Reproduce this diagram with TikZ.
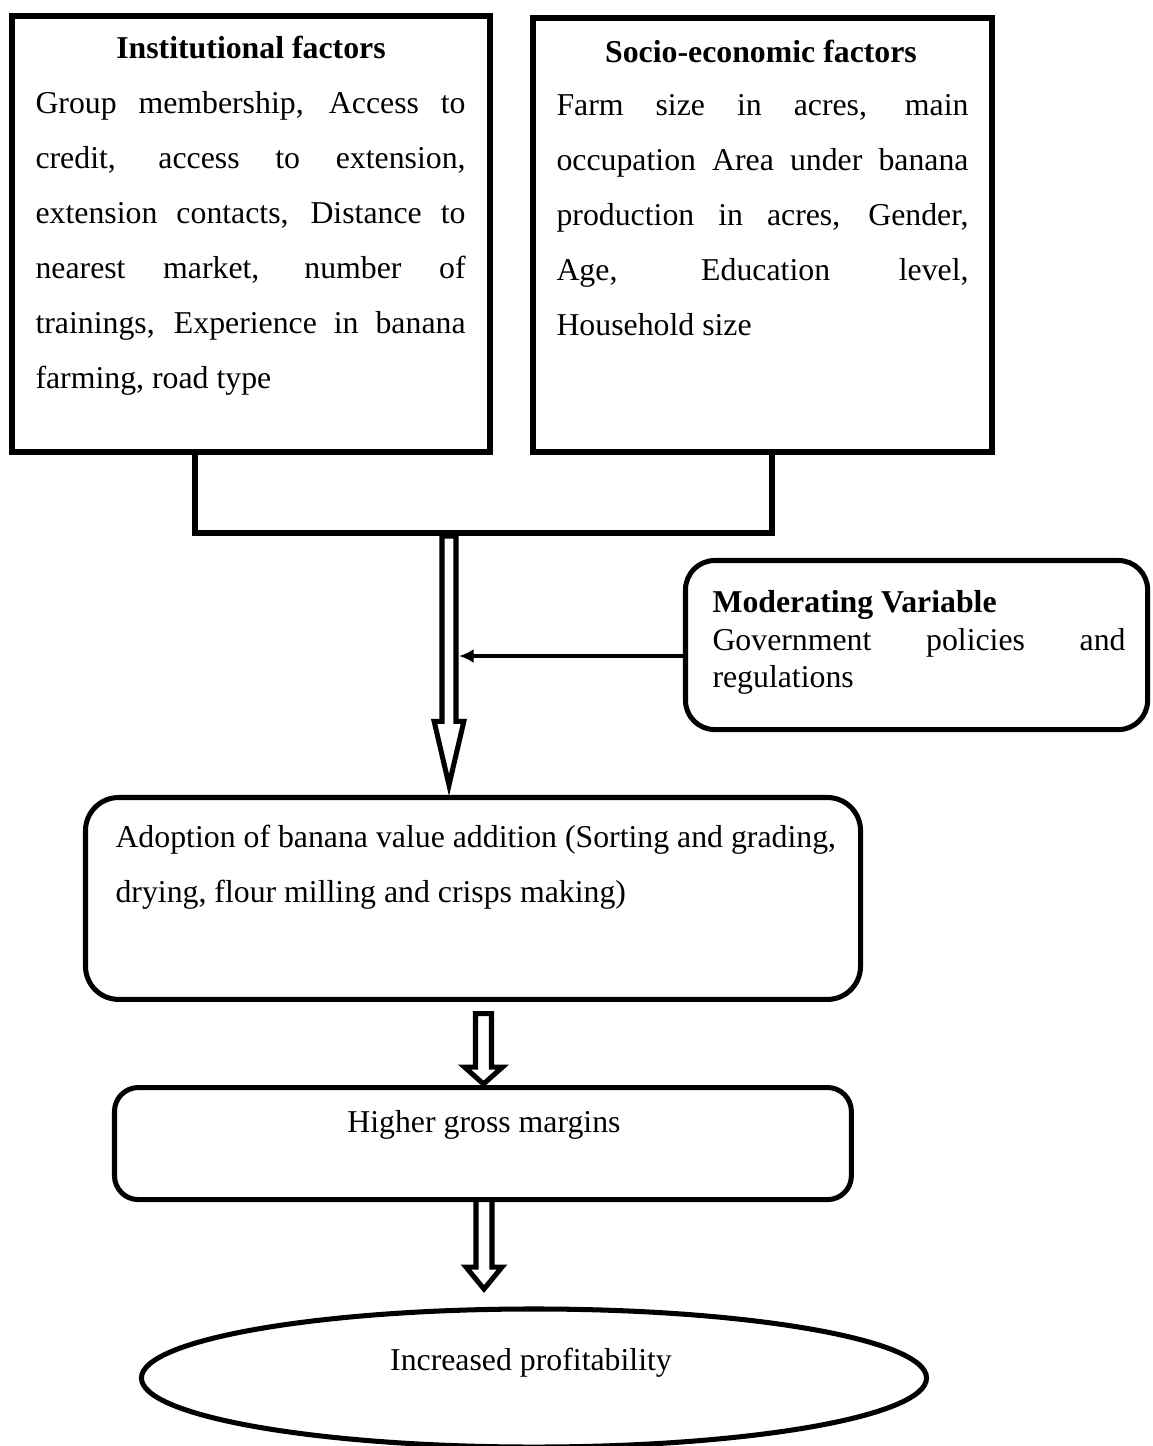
\documentclass[tikz,border=0pt]{standalone}
\usepackage{fontspec}
\setmainfont{Liberation Serif}
\usepackage{tikz}
\usetikzlibrary{positioning}
\usetikzlibrary{arrows.meta}
\usetikzlibrary{shapes}
\usetikzlibrary{calc}
\tikzset{
  factorbox/.style={rectangle, draw, line width=2.3pt, inner sep=0pt, outer sep=0pt, anchor=north west},
  roundbox/.style={rectangle, rounded corners=#1, draw, line width=1.9pt, inner sep=0pt, outer sep=0pt, anchor=north west},
  roundbox/.default=11pt,
  bodytext/.style={anchor=north west, inner sep=0pt, align=left, font=\fontsize{12}{20.75}\selectfont},
  headtext/.style={anchor=base, inner sep=0pt, font=\fontsize{12}{14}\selectfont\bfseries},
  plaintext/.style={anchor=base, inner sep=0pt, font=\fontsize{12}{14}\selectfont},
}
% justified line of a given width
\newcommand\jl[2]{\makebox[#1][s]{#2}}
% hollow block arrow: from, tip, shaft half width, head half width, head length
\newcommand\hollowarrow[5]{
  \draw[line width=1.9pt, fill=white, line join=miter] let \p1=(#1), \p2=(#2) in
    (\x1-#3,\y1) -- (\x1-#3,\y2+#5) -- (\x1-#4,\y2+#5) -- (\x2,\y2)
    -- (\x1+#4,\y2+#5) -- (\x1+#3,\y2+#5) -- (\x1+#3,\y1) -- cycle;
}
\begin{document}
\begin{tikzpicture}[x=0.3774pt, y=-0.3774pt]
    \useasboundingbox (0,0) rectangle (1152,1446);

    % the two groups of factors
    \node[factorbox, minimum width=180.4pt, minimum height=164.5pt] (inst) at (12,16) {};
    \node[headtext] (insttitle) at (251,58) {Institutional factors};
    \node[bodytext] (insttext) at (35,74.5) {\strut\jl{162.3pt}{Group membership, Access to}\\
      \jl{162.3pt}{credit, access to extension,}\\
      \jl{162.3pt}{extension contacts, Distance to}\\
      \jl{162.3pt}{nearest market, number of}\\
      \jl{162.3pt}{trainings, Experience in banana}\\
      farming, road type};

    \node[factorbox, minimum width=173.2pt, minimum height=163.8pt] (socio) at (533,18) {};
    \node[headtext] (sociotitle) at (761,62) {Socio-economic factors};
    \node[bodytext] (sociotext) at (556,76.5) {\strut\jl{155.5pt}{Farm size in acres, main}\\
      \jl{155.5pt}{occupation Area under banana}\\
      \jl{155.5pt}{production in acres, Gender,}\\
      \jl{155.5pt}{Age, Education level,}\\
      Household size};

    % bracket joining both boxes
    \coordinate (brl) at (195,533);
    \coordinate (brr) at (772,533);
    \draw[line width=2.2pt] (brl |- inst.south) -- (brl) -- (brr) -- (brr |- socio.south);

    % moderating variable
    \node[roundbox, minimum width=174.4pt, minimum height=63.8pt] (mod) at (685.5,560.5) {};
    \node[bodytext, font=\fontsize{12}{14.15}\selectfont] (modtext) at (712,585.8) {\strut\textbf{Moderating Variable}\\
      \jl{155.9pt}{Government policies and}\\
      regulations};

    % outcome chain
    \node[roundbox=12.5pt, minimum width=292.5pt, minimum height=76.2pt] (adopt) at (85.5,797.5) {};
    \node[bodytext] (adopttext) at (115,808.5) {\strut Adoption of banana value addition (Sorting and grading,\\
      drying, flour milling and crisps making)};

    \node[roundbox=9pt, minimum width=278.1pt, minimum height=42.3pt] (gross) at (114.5,1087.5) {};
    \node[plaintext] (grosstext) at (484,1132) {Higher gross margins};

    \node[ellipse, draw, line width=1.9pt, inner sep=0pt, minimum width=296.3pt, minimum height=52.1pt] (profit) at (534,1378) {};
    \node[plaintext] (profittext) at (531,1370) {Increased profitability};

    % arrows
    \coordinate (a1s) at (449,536);
    \coordinate (a1e) at (449,785);
    \coordinate (a2s) at (483.5,1013.5);
    \coordinate (a2e) at (483.5,1084);
    \coordinate (a3s) at (484,1199.5);
    \coordinate (a3e) at (484,1289);
    \hollowarrow{a1s}{a1e}{2.64pt}{5.6pt}{24pt}
    \hollowarrow{a2s}{a2e}{3.02pt}{7.17pt}{6.4pt}
    \hollowarrow{a3s}{a3e}{3.02pt}{6.8pt}{8.3pt}

    \coordinate (modin) at (459,656);
    \draw[line width=1.4pt, -{Latex[length=5.5pt,width=5.2pt]}] (mod.west |- modin) -- (modin);
\end{tikzpicture}
\end{document}
